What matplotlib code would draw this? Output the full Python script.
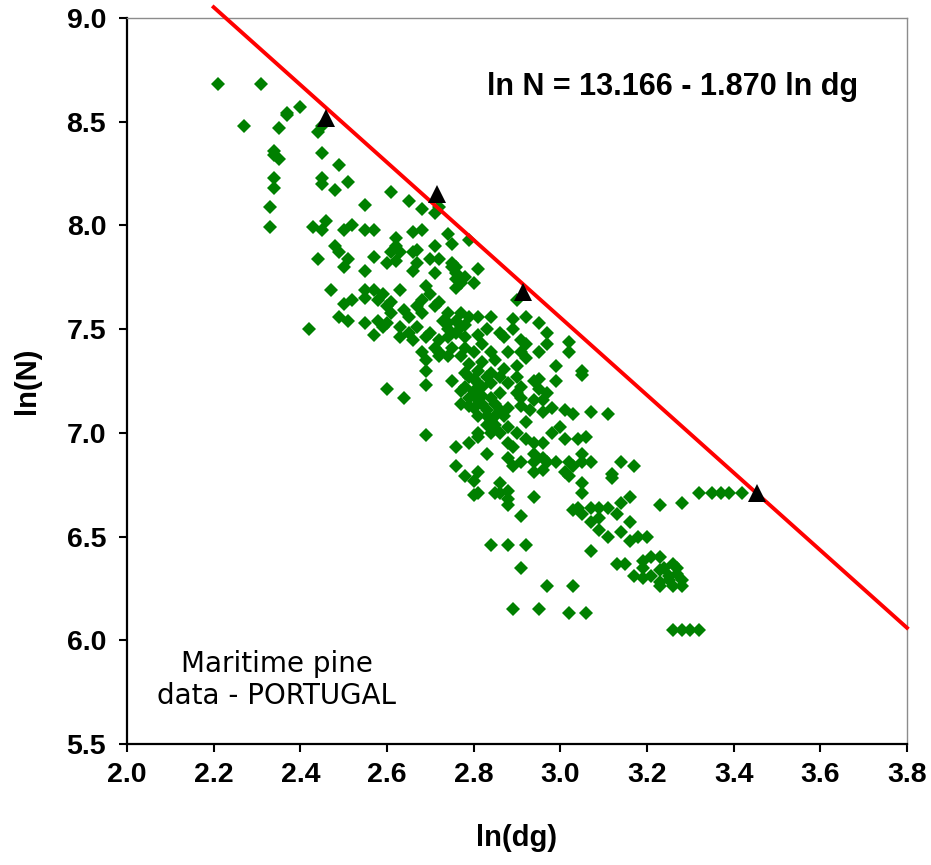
import matplotlib
matplotlib.use("Agg")
import matplotlib.pyplot as plt
import numpy as np

plt.rcParams['font.family'] = ['Liberation Sans', 'DejaVu Sans']

# stand data: ln(quadratic mean diameter), ln(trees per ha)
ln_dg = [2.21, 2.31, 2.40, 2.37, 2.37, 2.27, 2.35, 2.44, 2.45, 2.34,
         2.34, 2.35, 2.45, 2.49, 2.34, 2.34, 2.45, 2.45, 2.48, 2.51,
         2.33, 2.33, 2.55, 2.61, 2.65, 2.68, 2.71, 2.43, 2.45, 2.46,
         2.50, 2.52, 2.55, 2.57, 2.66, 2.68, 2.74, 2.75, 2.62, 2.62,
         2.61, 2.60, 2.62, 2.57, 2.48, 2.49, 2.51, 2.50, 2.44, 2.55,
         2.67, 2.67, 2.66, 2.71, 2.70, 2.72, 2.75, 2.71, 2.47, 2.50,
         2.52, 2.55, 2.55, 2.49, 2.51, 2.55, 2.57, 2.58, 2.57, 2.59,
         2.42, 2.58, 2.61, 2.63, 2.61, 2.63, 2.65, 2.68, 2.68, 2.70,
         2.71, 2.72, 2.74, 2.65, 2.67, 2.69, 2.71, 2.74, 2.75, 2.72,
         2.63, 2.76, 2.76, 2.76, 2.72, 2.79, 2.63, 2.66, 2.75, 2.76,
         2.81, 2.78, 2.77, 2.80, 2.76, 2.69, 2.59, 2.60, 2.64, 2.67,
         2.77, 2.79, 2.81, 2.84, 2.89, 2.92, 2.95, 2.90, 2.97, 3.02,
         3.02, 2.74, 2.77, 2.78, 2.83, 2.87, 2.89, 2.91, 2.82, 2.78,
         2.66, 2.60, 2.68, 2.74, 2.80, 2.84, 2.88, 2.91, 2.95, 2.70,
         2.73, 2.86, 2.92, 2.92, 2.90, 2.85, 2.69, 2.69, 2.69, 2.64,
         2.75, 2.78, 2.81, 2.84, 2.78, 2.81, 2.84, 2.79, 2.81, 2.84,
         2.88, 2.77, 2.80, 2.83, 2.86, 2.88, 2.81, 2.84, 2.87, 2.91,
         2.95, 2.95, 2.91, 2.94, 2.96, 2.98, 3.01, 3.03, 2.93, 2.96,
         2.99, 2.99, 3.05, 3.05, 3.07, 3.11, 2.69, 2.76, 2.79, 2.81,
         2.84, 2.86, 2.83, 2.88, 2.90, 2.92, 2.94, 2.96, 2.88, 2.88,
         2.89, 2.98, 3.01, 3.00, 3.04, 3.06, 2.94, 2.94, 2.97, 2.99,
         3.02, 3.05, 3.07, 3.05, 2.94, 2.96, 3.01, 3.03, 2.76, 2.78,
         2.80, 2.81, 2.81, 2.86, 2.85, 2.88, 2.88, 2.88, 2.91, 2.94,
         3.05, 3.05, 3.12, 3.14, 3.17, 3.03, 3.05, 3.07, 3.09, 3.11,
         3.09, 3.13, 3.14, 3.16, 3.07, 3.09, 3.11, 3.14, 3.16, 3.16,
         3.20, 3.07, 3.13, 3.15, 3.17, 3.19, 3.21, 3.23, 3.24, 3.25,
         3.27, 3.28, 3.23, 3.26, 3.28, 3.21, 3.23, 3.28, 3.32, 2.84,
         2.88, 2.92, 2.91, 2.97, 3.03, 2.89, 2.95, 3.02, 3.06, 3.26,
         3.28, 3.30, 3.32, 2.80, 3.18, 3.19, 3.26, 3.19, 3.23, 3.27,
         3.23, 3.25, 3.02, 3.12, 3.04, 3.35, 3.37, 3.39, 3.42, 2.60,
         2.72, 2.77, 2.79, 2.82, 2.86, 2.90, 2.94, 2.97, 2.83, 2.85,
         2.91, 2.81, 2.89, 2.91, 2.96, 2.86, 2.80, 2.82, 2.80, 2.83,
         2.79, 2.82, 2.85, 2.86, 2.77, 2.79, 2.82, 2.87, 2.74, 2.76,
         2.78, 2.72, 2.81, 2.83, 2.85, 2.92, 2.90, 2.97]
ln_n = [8.68, 8.68, 8.57, 8.54, 8.53, 8.48, 8.47, 8.45, 8.48, 8.36,
        8.34, 8.32, 8.35, 8.29, 8.23, 8.18, 8.23, 8.20, 8.17, 8.21,
        8.09, 7.99, 8.10, 8.16, 8.12, 8.08, 8.06, 7.99, 7.98, 8.02,
        7.98, 8.00, 7.98, 7.98, 7.97, 7.98, 7.96, 7.91, 7.94, 7.90,
        7.87, 7.82, 7.83, 7.85, 7.90, 7.87, 7.84, 7.80, 7.84, 7.78,
        7.88, 7.82, 7.78, 7.90, 7.84, 7.84, 7.82, 7.77, 7.69, 7.62,
        7.64, 7.69, 7.65, 7.56, 7.54, 7.53, 7.69, 7.54, 7.47, 7.51,
        7.50, 7.64, 7.63, 7.69, 7.58, 7.51, 7.56, 7.58, 7.64, 7.67,
        7.61, 7.63, 7.58, 7.48, 7.51, 7.46, 7.41, 7.46, 7.41, 7.39,
        7.46, 7.54, 7.74, 7.80, 8.09, 7.93, 7.87, 7.87, 7.80, 7.77,
        7.79, 7.75, 7.72, 7.72, 7.70, 7.71, 7.67, 7.61, 7.59, 7.61,
        7.58, 7.56, 7.56, 7.56, 7.55, 7.56, 7.53, 7.64, 7.48, 7.44,
        7.39, 7.50, 7.51, 7.46, 7.50, 7.46, 7.50, 7.45, 7.43, 7.41,
        7.45, 7.53, 7.39, 7.37, 7.39, 7.39, 7.39, 7.39, 7.39, 7.48,
        7.54, 7.48, 7.43, 7.36, 7.32, 7.35, 7.35, 7.30, 7.23, 7.17,
        7.25, 7.29, 7.30, 7.29, 7.22, 7.24, 7.24, 7.17, 7.16, 7.17,
        7.24, 7.14, 7.12, 7.11, 7.11, 7.12, 7.08, 7.06, 7.08, 7.22,
        7.26, 7.21, 7.17, 7.16, 7.16, 7.12, 7.11, 7.09, 7.11, 7.10,
        7.32, 7.25, 7.30, 7.28, 7.10, 7.09, 6.99, 6.93, 6.95, 7.00,
        7.00, 7.00, 6.90, 7.03, 7.00, 6.97, 6.95, 6.95, 6.95, 6.88,
        6.84, 7.00, 6.97, 7.03, 6.97, 6.98, 6.90, 6.86, 6.86, 6.86,
        6.86, 6.86, 6.86, 6.90, 6.81, 6.82, 6.81, 6.84, 6.84, 6.79,
        6.77, 6.81, 6.71, 6.76, 6.71, 6.72, 6.68, 6.65, 6.60, 6.69,
        6.76, 6.71, 6.78, 6.86, 6.84, 6.63, 6.61, 6.64, 6.64, 6.64,
        6.59, 6.61, 6.66, 6.69, 6.57, 6.53, 6.50, 6.52, 6.57, 6.48,
        6.50, 6.43, 6.37, 6.37, 6.31, 6.35, 6.40, 6.40, 6.35, 6.31,
        6.35, 6.29, 6.28, 6.26, 6.26, 6.31, 6.65, 6.66, 6.71, 6.46,
        6.46, 6.46, 6.35, 6.26, 6.26, 6.15, 6.15, 6.13, 6.13, 6.05,
        6.05, 6.05, 6.05, 6.70, 6.50, 6.38, 6.37, 6.30, 6.26, 6.32,
        6.34, 6.29, 6.79, 6.80, 6.64, 6.71, 6.71, 6.71, 6.71, 7.21,
        7.37, 7.37, 7.27, 7.22, 7.19, 7.19, 7.25, 7.19, 7.08, 7.08,
        7.13, 6.98, 6.93, 6.86, 6.88, 6.71, 7.20, 7.18, 7.26, 7.27,
        7.13, 7.14, 7.14, 7.27, 7.20, 7.33, 7.34, 7.31, 7.53, 7.48,
        7.52, 7.45, 7.47, 7.04, 7.04, 7.05, 7.27, 7.43]

# self-thinning line points (black triangles)
max_dg = [2.46, 2.715, 2.915, 3.455]
max_n = [8.52, 8.15, 7.68, 6.71]

# fitted line ln N = a - b ln dg
a = 13.166
b = 1.870
line_dg = np.array([2.2, 3.8])

x_ticks = [2.0, 2.2, 2.4, 2.6, 2.8, 3.0, 3.2, 3.4, 3.6, 3.8]
y_ticks = [5.5, 6.0, 6.5, 7.0, 7.5, 8.0, 8.5, 9.0]

fig = plt.figure(figsize=(9.31, 8.65), dpi=100)
ax = fig.add_axes([0.1364, 0.1399, 0.8378, 0.8393])

ax.plot(ln_dg, ln_n, linestyle='none', marker='D', markersize=7.4,
        color='#008000', markeredgewidth=0, zorder=2)
ax.plot(line_dg, a - b * line_dg, color='#ff0000', linewidth=2.8,
        clip_on=False, zorder=3)
ax.plot(max_dg, max_n, linestyle='none', marker='^', markersize=13.5,
        color='black', markeredgewidth=0, zorder=4)

ax.set_xlim(2.0, 3.8)
ax.set_ylim(5.5, 9.0)
ax.set_xticks(x_ticks)
ax.set_yticks(y_ticks)
ax.set_xticklabels(['%.1f' % v for v in x_ticks])
ax.set_yticklabels(['%.1f' % v for v in y_ticks])
ax.tick_params(direction='out', length=6, width=1.5, labelsize=20.5, color='black')
ax.tick_params(axis='x', pad=7)
ax.tick_params(axis='y', pad=9)
for lab in ax.get_xticklabels() + ax.get_yticklabels():
    lab.set_fontweight('bold')

for side in ['left', 'bottom']:
    ax.spines[side].set_linewidth(1.6)
    ax.spines[side].set_color('black')
for side in ['top', 'right']:
    ax.spines[side].set_linewidth(1.0)
    ax.spines[side].set_color('#8c8c8c')

ax.set_xlabel('ln(dg)', fontsize=21, fontweight='bold')
ax.set_ylabel('ln(N)', fontsize=21, fontweight='bold')
ax.xaxis.set_label_coords(0.5, -0.110)
ax.yaxis.set_label_coords(-0.110, 0.5)

ax.text(0.4615, 0.905, 'ln N = 13.166 - 1.870 ln dg', transform=ax.transAxes,
        fontsize=22, fontweight='bold', ha='left', va='center')
ax.text(0.192, 0.088, 'Maritime pine\ndata - PORTUGAL', transform=ax.transAxes,
        fontsize=20, family='DejaVu Sans', ha='center', va='center',
        linespacing=1.15)

plt.savefig('out.png', dpi=100)
